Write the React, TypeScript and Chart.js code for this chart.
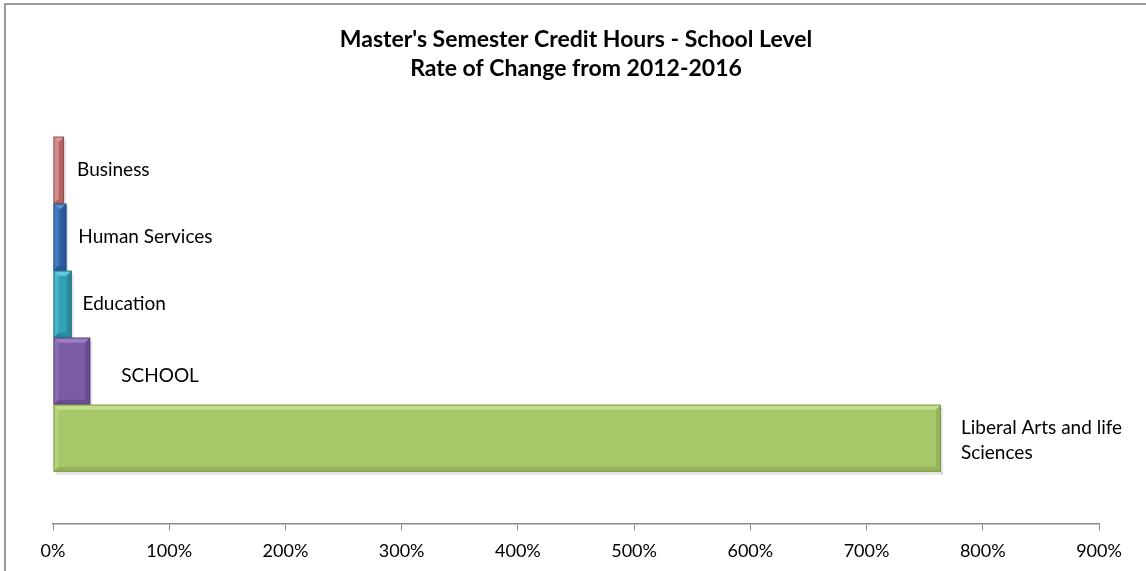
import React, { useEffect, useRef } from "react";
import { Chart, registerables } from "chart.js";

Chart.register(...registerables);

const titleLines = ["Master's Semester Credit Hours - School Level", "Rate of Change from 2012-2016"];
const categories = [""];
const seriesNames = ["Business", "Human Services", "Education", "SCHOOL", "Liberal Arts and life Sciences"];
const seriesLabelLines = [["Business"], ["Human Services"], ["Education"], ["SCHOOL"], ["Liberal Arts and life", "Sciences"]];
const seriesValues = [0.095, 0.115, 0.16, 0.32, 7.64];
const seriesColors = ["#c77b79", "#2f67ab", "#31a1b6", "#7a5ca3", "#a7c868"];
const seriesLights = ["#dba09e", "#5a8fd0", "#62c8da", "#9a80c0", "#c4de8c"];
const seriesMids = ["#b06361", "#28579a", "#288a9c", "#684c8f", "#93b45a"];
const seriesDarks = ["#8e4644", "#1d4478", "#1d6a7a", "#4f3872", "#738f40"];
const xTickMax = 9;

const FONT = "Lato, 'Open Sans', sans-serif";

const labelOffsets = [
  { dx: 13, dy: 0 },
  { dx: 12, dy: 0 },
  { dx: 11, dy: 0 },
  { dx: 31, dy: 5 },
  { dx: 20, dy: 2 },
];

const framePlugin = {
  id: "frame",
  beforeDraw(chart: any) {
    const ctx = chart.ctx;
    ctx.save();
    ctx.fillStyle = "#ffffff";
    ctx.fillRect(0, 0, chart.width, chart.height);
    ctx.strokeStyle = "#9a9a9a";
    ctx.lineWidth = 2;
    ctx.beginPath();
    ctx.moveTo(5, chart.height + 2);
    ctx.lineTo(5, 4);
    ctx.lineTo(chart.width + 2, 4);
    ctx.stroke();
    ctx.restore();
  },
};

function poly(ctx: any, pts: number[][], color: string) {
  ctx.fillStyle = color;
  ctx.beginPath();
  ctx.moveTo(pts[0][0], pts[0][1]);
  for (let i = 1; i < pts.length; i++) ctx.lineTo(pts[i][0], pts[i][1]);
  ctx.closePath();
  ctx.fill();
}

const shadowPlugin = {
  id: "barShadow",
  beforeDatasetsDraw(chart: any) {
    const ctx = chart.ctx;
    ctx.save();
    chart.data.datasets.forEach((ds: any, i: number) => {
      const bar = chart.getDatasetMeta(i).data[0];
      if (!bar) return;
      const x0 = bar.base;
      const x1 = bar.x;
      const y1 = bar.y + bar.height / 2;
      const y0 = bar.y - bar.height / 2;
      ctx.fillStyle = "rgba(0,0,0,0.10)";
      ctx.fillRect(x0 + 2, y1, x1 - x0, 3);
      ctx.fillRect(x1, y0 + 3, 2, y1 - y0);
    });
    ctx.restore();
  },
};

const bevelPlugin = {
  id: "bevel",
  afterDatasetsDraw(chart: any) {
    const ctx = chart.ctx;
    ctx.save();
    chart.data.datasets.forEach((ds: any, i: number) => {
      const bar = chart.getDatasetMeta(i).data[0];
      if (!bar) return;
      const x0 = bar.base;
      const x1 = bar.x;
      const y0 = bar.y - bar.height / 2;
      const y1 = bar.y + bar.height / 2;
      const b = Math.min(5, (x1 - x0) / 2, (y1 - y0) / 2);
      poly(ctx, [[x0, y0], [x1, y0], [x1 - b, y0 + b], [x0 + b, y0 + b]], seriesLights[i]);
      ctx.globalAlpha = 0.5;
      poly(ctx, [[x0, y0], [x0 + b, y0 + b], [x0 + b, y1 - b], [x0, y1]], seriesLights[i]);
      ctx.globalAlpha = 1;
      poly(ctx, [[x0, y1], [x0 + b, y1 - b], [x1 - b, y1 - b], [x1, y1]], seriesMids[i]);
      poly(ctx, [[x1, y0], [x1, y1], [x1 - b, y1 - b], [x1 - b, y0 + b]], seriesMids[i]);
      ctx.strokeStyle = seriesDarks[i];
      ctx.globalAlpha = 0.8;
      ctx.lineWidth = 1;
      ctx.strokeRect(x0 + 0.5, y0 + 0.5, x1 - x0 - 1, y1 - y0 - 1);
      ctx.globalAlpha = 1;
    });
    ctx.restore();
  },
};

const barLabelPlugin = {
  id: "barLabels",
  afterDatasetsDraw(chart: any) {
    const ctx = chart.ctx;
    ctx.save();
    ctx.font = `19px ${FONT}`;
    ctx.fillStyle = "#000000";
    ctx.textAlign = "left";
    ctx.textBaseline = "middle";
    chart.data.datasets.forEach((ds: any, i: number) => {
      const bar = chart.getDatasetMeta(i).data[0];
      if (!bar) return;
      const lines = seriesLabelLines[i];
      const off = labelOffsets[i];
      const lh = 25;
      const startY = bar.y + off.dy - ((lines.length - 1) * lh) / 2;
      lines.forEach((ln: string, k: number) => {
        ctx.fillText(ln, bar.x + off.dx, startY + k * lh);
      });
    });
    ctx.restore();
  },
};

export default function App() {
  const ref = useRef<HTMLCanvasElement | null>(null);
  useEffect(() => {
    if (!ref.current) return;
    const chart = new Chart(ref.current, {
      type: "bar",
      data: {
        labels: categories,
        datasets: seriesNames.map((name, i) => ({
          label: name,
          data: [seriesValues[i]],
          backgroundColor: seriesColors[i],
          borderWidth: 0,
          categoryPercentage: 0.764,
          barPercentage: 1,
        })),
      },
      options: {
        indexAxis: "y",
        animation: false,
        responsive: true,
        maintainAspectRatio: false,
        layout: { padding: { left: 53, right: 47, top: 0, bottom: 0 } },
        plugins: {
          legend: { display: false },
          tooltip: { enabled: false },
          title: {
            display: true,
            text: titleLines,
            color: "#000000",
            font: { family: FONT, size: 23, weight: "bold", lineHeight: 1.27 },
            padding: { top: 25, bottom: 1.5 },
          },
        },
        scales: {
          y: { display: false },
          x: {
            min: 0,
            max: xTickMax,
            grid: {
              drawOnChartArea: false,
              drawTicks: true,
              tickLength: 7,
              color: "#8a8a8a",
            },
            border: { display: true, color: "#8a8a8a", width: 1.5 },
            ticks: {
              stepSize: 1,
              color: "#000000",
              font: { family: FONT, size: 18 },
              padding: 9.5,
              callback: (v: any) => `${Math.round(Number(v) * 100)}%`,
            },
          },
        },
      },
      plugins: [framePlugin, shadowPlugin, bevelPlugin, barLabelPlugin],
    });
    return () => chart.destroy();
  }, []);
  return (
    <div style={{ position: "fixed", left: 0, top: 0, width: 1146, height: 571, background: "#fff" }}>
      <canvas ref={ref} />
    </div>
  );
}
